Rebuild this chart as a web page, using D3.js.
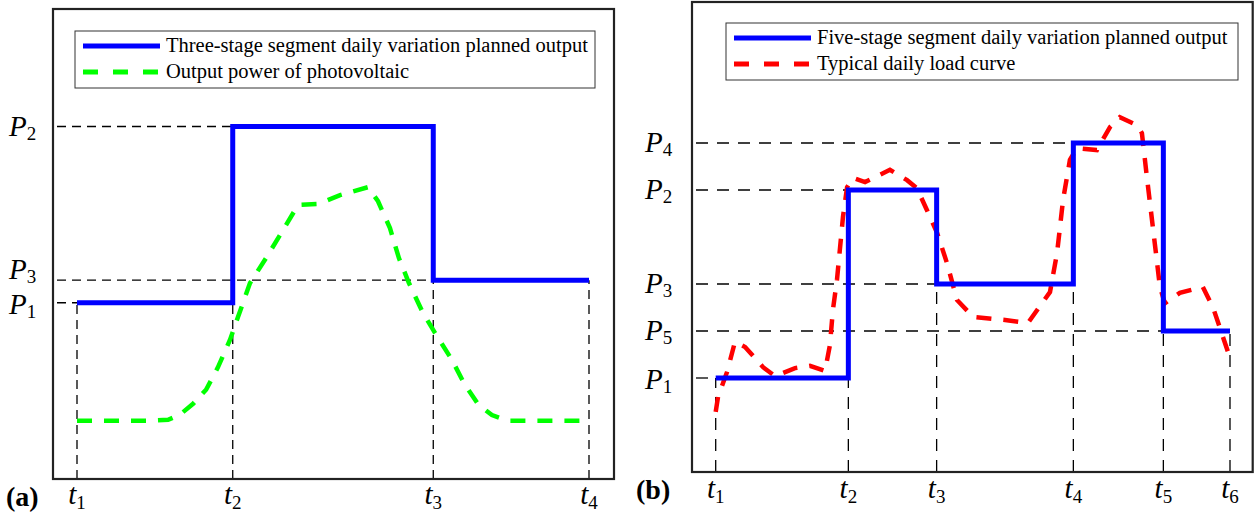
<!DOCTYPE html>
<html>
<head>
<meta charset="utf-8">
<script src="https://cdn.jsdelivr.net/npm/d3@7"></script>
<style>
  body { margin: 0; background: #fff; }
  svg { display: block; font-family: "Liberation Serif", "Times New Roman", serif; }
</style>
</head>
<body>
<div id="chart"></div>
<script>
// panel (a): three-stage plan vs photovoltaic output
const tA = [0, 7.3, 16.7, 24];               // t1..t4 (h)
const levelsA = [37.5, 75, 42.3];            // P1, P2, P3
const pvHours = [0, 3.5, 4.27, 4.83, 5.44, 6.05, 6.61, 7.17, 7.55, 8.11, 8.86, 9.61, 10.36, 11.3,
  12.33, 13.64, 14.11, 14.67, 15.09, 15.56, 16.22, 16.78, 17.58, 18.14, 18.8, 19.45, 20.2, 24];
const pvOutput = [12.4, 12.4, 12.6, 13.7, 16.0, 19.0, 23.8, 29.6, 34.5, 41.7, 47.0, 52.6, 58.3, 58.5,
  60.4, 62.1, 59.1, 53.4, 47.0, 41.7, 35.3, 31.1, 25.3, 20.4, 15.9, 13.6, 12.4, 12.4];

// panel (b): five-stage plan vs typical load
const tB = [0, 6.19, 10.31, 16.69, 20.89, 24]; // t1..t6 (h)
const levelsB = [20, 60, 40, 70, 30];          // P1..P5
const loadHours = [0, 0.11, 0.53, 0.9, 1.37, 2.21, 2.77, 3.7, 4.4, 5.1, 5.33, 5.47, 5.66, 5.94, 6.13,
  6.41, 6.97, 8.13, 8.93, 9.39, 9.86, 10.33, 10.79, 11.26, 12.01, 13.59, 14.57, 15.6, 15.93, 16.21,
  16.53, 16.86, 17.79, 18.4, 18.86, 19.66, 19.89, 20.12, 20.4, 20.73, 20.96, 21.66, 22.73, 23.2, 24];
const loadValues = [12.8, 16.0, 21.3, 27.7, 26.6, 22.3, 20.4, 22.1, 22.6, 21.5, 27.0, 34.5, 40.9, 54.3, 60.6,
  62.6, 61.7, 64.3, 62.1, 60.4, 55.7, 50.9, 44.5, 36.6, 33.0, 32.3, 31.7, 38.3, 46.6, 57.9,
  66.4, 68.9, 68.5, 73.4, 75.5, 73.8, 72.1, 62.8, 52.1, 39.4, 35.9, 38.1, 39.4, 35.1, 24.3];

const svg = d3.select("#chart").append("svg")
    .attr("width", 1258)
    .attr("height", 513);

function drawPanel(opt) {
    const g = svg.append("g");
    const f = opt.frame;
    const x = d3.scaleLinear().domain([0, 24]).range(opt.xRange);
    const y = d3.scaleLinear().domain([0, 100]).range([f.bottom, f.top]);

    // dashed guide lines
    const guides = g.append("g")
        .attr("stroke", "#000")
        .attr("stroke-width", 1.3)
        .attr("stroke-dasharray", opt.guideDash)
        .attr("fill", "none");
    opt.levels.forEach((p, i) => {
        guides.append("line")
            .attr("x1", f.left + 4).attr("x2", x(opt.times[i]))
            .attr("y1", y(p)).attr("y2", y(p));
    });
    opt.times.forEach((t, i) => {
        const adj = [opt.levels[i - 1], opt.levels[i]].filter(v => v !== undefined);
        guides.append("line")
            .attr("x1", x(t)).attr("x2", x(t))
            .attr("y1", f.bottom).attr("y2", y(d3.min(adj)));
    });

    // comparison curve
    const pts = opt.curveX.map((v, i) => [v, opt.curveY[i]]);
    g.append("path")
        .datum(pts)
        .attr("fill", "none")
        .attr("stroke", opt.curveColor)
        .attr("stroke-width", 4.5)
        .attr("stroke-dasharray", "15,12")
        .attr("d", d3.line().x(d => x(d[0])).y(d => y(d[1])));

    // step plan
    const steps = opt.levels.map((p, i) => [opt.times[i], p]);
    steps.push([opt.times[opt.times.length - 1], opt.levels[opt.levels.length - 1]]);
    g.append("path")
        .datum(steps)
        .attr("fill", "none")
        .attr("stroke", "#0000ff")
        .attr("stroke-width", 5)
        .attr("d", d3.line().curve(d3.curveStepAfter).x(d => x(d[0])).y(d => y(d[1])));

    // frame
    g.append("rect")
        .attr("x", f.left).attr("y", f.top)
        .attr("width", f.right - f.left).attr("height", f.bottom - f.top)
        .attr("fill", "none")
        .attr("stroke", "#222")
        .attr("stroke-width", 2.2);

    // P labels
    opt.levels.forEach((p, i) => {
        const tx = g.append("text")
            .attr("x", opt.pLabelX)
            .attr("y", y(p) + opt.pShift[i])
            .attr("font-size", 29)
            .attr("font-style", "italic")
            .text("P");
        tx.append("tspan").attr("font-style", "normal").attr("font-size", 19).attr("dy", 4).text(i + 1);
    });

    // t labels
    opt.times.forEach((t, i) => {
        const tx = g.append("text")
            .attr("x", x(t))
            .attr("y", opt.tLabelY)
            .attr("text-anchor", "middle")
            .attr("font-size", 29)
            .attr("font-style", "italic")
            .text("t");
        tx.append("tspan").attr("font-style", "normal").attr("font-size", 19).attr("dy", 5).text(i + 1);
    });

    g.append("text")
        .attr("x", opt.tag[0]).attr("y", opt.tag[1])
        .attr("font-size", 28)
        .attr("font-weight", "bold")
        .text(opt.tagText);

    // legend
    const L = opt.legend;
    g.append("rect")
        .attr("x", L.x).attr("y", L.y).attr("width", L.w).attr("height", L.h)
        .attr("fill", "#fff").attr("stroke", "#333").attr("stroke-width", 1);
    L.items.forEach((it, i) => {
        const cy = L.y + 15 + i * 26;
        g.append("line")
            .attr("x1", L.x + 8).attr("x2", L.x + 85)
            .attr("y1", cy).attr("y2", cy)
            .attr("stroke", it.color)
            .attr("stroke-width", 5)
            .attr("stroke-dasharray", it.dash ? "15,15" : null);
        g.append("text")
            .attr("x", L.x + 91).attr("y", cy + 6)
            .attr("font-size", 20.5)
            .text(it.label);
    });
}

drawPanel({
    frame: { left: 53, top: 9, right: 614, bottom: 479 },
    xRange: [77, 589],
    times: tA, levels: levelsA,
    pShift: [11, 9, -1],
    curveX: pvHours, curveY: pvOutput, curveColor: "#00ff00",
    guideDash: "9,6",
    pLabelX: 9, tLabelY: 504,
    tag: [6, 506], tagText: "(a)",
    legend: { x: 75, y: 31, w: 520, h: 57, items: [
        { label: "Three-stage segment daily variation planned output", color: "#0000ff", dash: false },
        { label: "Output power of photovoltaic", color: "#00ff00", dash: true }
    ] }
});

drawPanel({
    frame: { left: 692, top: 2, right: 1252.7, bottom: 472 },
    xRange: [715.7, 1230],
    times: tB, levels: levelsB,
    pShift: [11, 9, 9, 9, 9],
    curveX: loadHours, curveY: loadValues, curveColor: "#ff0000",
    guideDash: "12,9",
    pLabelX: 645, tLabelY: 498,
    tag: [636, 499], tagText: "(b)",
    legend: { x: 726, y: 23, w: 512, h: 57, items: [
        { label: "Five-stage segment daily variation planned output", color: "#0000ff", dash: false },
        { label: "Typical daily load curve", color: "#ff0000", dash: true }
    ] }
});
</script>
</body>
</html>
